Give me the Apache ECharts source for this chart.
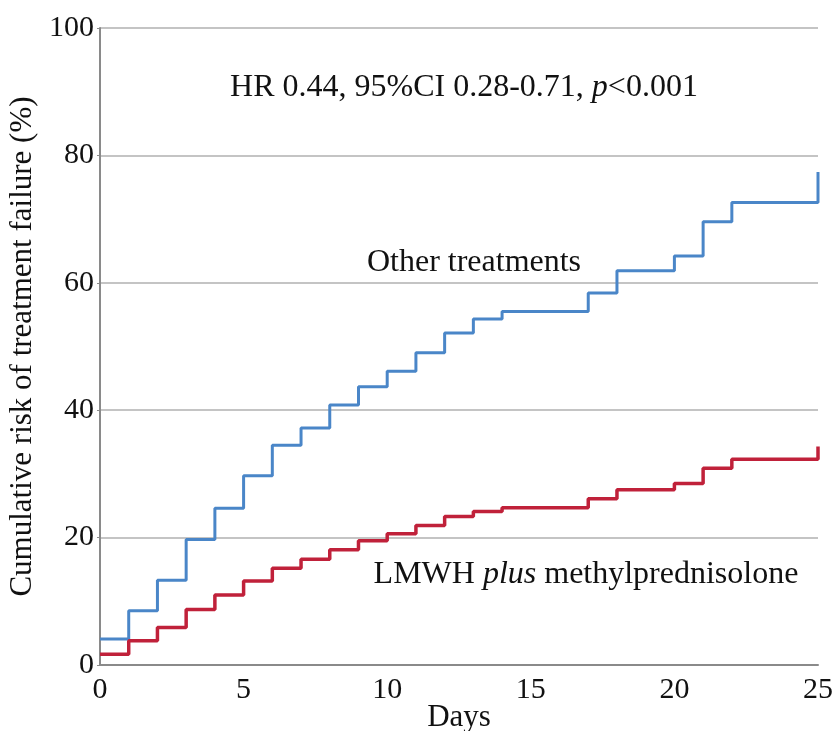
<!DOCTYPE html>
<html>
<head>
<meta charset="utf-8">
<script src="https://cdn.jsdelivr.net/npm/echarts@6/dist/echarts.min.js"></script>
<style>
  html, body { margin: 0; padding: 0; background: #fff; }
  #main { width: 839px; height: 731px; }
</style>
</head>
<body>
<div id="main"></div>
<script>
// Kaplan-Meier style cumulative failure curves
const days = [0, 1, 2, 3, 4, 5, 6, 7, 8, 9, 10, 11, 12, 13, 14, 17, 18, 20, 21, 22, 25];
const otherTreatments = [4.1, 8.5, 13.3, 19.7, 24.6, 29.7, 34.5, 37.2, 40.8, 43.7, 46.1, 49.0, 52.1, 54.3, 55.5, 58.4, 61.9, 64.2, 69.6, 72.6, 77.4];
const lmwhPlus = [1.7, 3.8, 5.9, 8.7, 11.0, 13.2, 15.2, 16.6, 18.1, 19.5, 20.6, 21.9, 23.3, 24.1, 24.7, 26.1, 27.5, 28.5, 30.9, 32.3, 34.3];
const xTicks = [0, 5, 10, 15, 20, 25];
const yTicks = [0, 20, 40, 60, 80, 100];

const font = '"Liberation Serif", "Times New Roman", serif';
const pair = (xs, ys) => xs.map((x, i) => [x, ys[i]]);

let myChart = echarts.init(document.getElementById('main'));

let options = {
    animation: false,
    backgroundColor: '#fff',
    grid: { left: 100, right: 21, top: 28, bottom: 66, outerBoundsMode: 'none' },
    xAxis: {
        type: 'value',
        min: xTicks[0],
        max: xTicks[xTicks.length - 1],
        interval: 5,
        name: 'Days',
        nameLocation: 'middle',
        nameGap: 37,
        nameMoveOverlap: false,
        nameTextStyle: { fontFamily: font, fontSize: 31, color: '#111' },
        axisLine: { lineStyle: { color: '#8a8a8a', width: 2 } },
        axisTick: { show: false },
        splitLine: { show: false },
        axisLabel: { fontFamily: font, fontSize: 30, color: '#111', margin: 10 }
    },
    yAxis: {
        type: 'value',
        min: yTicks[0],
        max: yTicks[yTicks.length - 1],
        interval: 20,
        name: 'Cumulative risk of treatment failure (%)',
        nameLocation: 'middle',
        nameGap: 61,
        nameTextStyle: { fontFamily: font, fontSize: 31, color: '#111' },
        axisLine: { show: true, lineStyle: { color: '#8a8a8a', width: 2 } },
        axisTick: { show: true, length: 3, lineStyle: { color: '#8a8a8a' } },
        splitLine: { lineStyle: { color: '#c4c4c4', width: 2 } },
        axisLabel: { fontFamily: font, fontSize: 30, color: '#111', margin: 6 }
    },
    series: [
        {
            name: 'Other treatments',
            type: 'line',
            step: 'end',
            symbol: 'none',
            data: pair(days, otherTreatments),
            lineStyle: { color: '#4a86c8', width: 3 }
        },
        {
            name: 'LMWH plus methylprednisolone',
            type: 'line',
            step: 'end',
            symbol: 'none',
            data: pair(days, lmwhPlus),
            lineStyle: { color: '#c0213a', width: 3.5 }
        }
    ],
    graphic: [
        {
            type: 'text', x: 464, y: 88,
            style: {
                text: 'HR 0.44, 95%CI 0.28-0.71, {i|p}<0.001',
                font: '32px ' + font, fill: '#111',
                align: 'center', verticalAlign: 'middle',
                rich: { i: { fontFamily: font, fontSize: 32, fontStyle: 'italic', fill: '#111' } }
            }
        },
        {
            type: 'text', x: 474, y: 263,
            style: {
                text: 'Other treatments',
                font: '32px ' + font, fill: '#111',
                align: 'center', verticalAlign: 'middle'
            }
        },
        {
            type: 'text', x: 586, y: 575,
            style: {
                text: 'LMWH {i|plus} methylprednisolone',
                font: '32px ' + font, fill: '#111',
                align: 'center', verticalAlign: 'middle',
                rich: { i: { fontFamily: font, fontSize: 32, fontStyle: 'italic', fill: '#111' } }
            }
        }
    ]
};

myChart.setOption(options);
</script>
</body>
</html>
